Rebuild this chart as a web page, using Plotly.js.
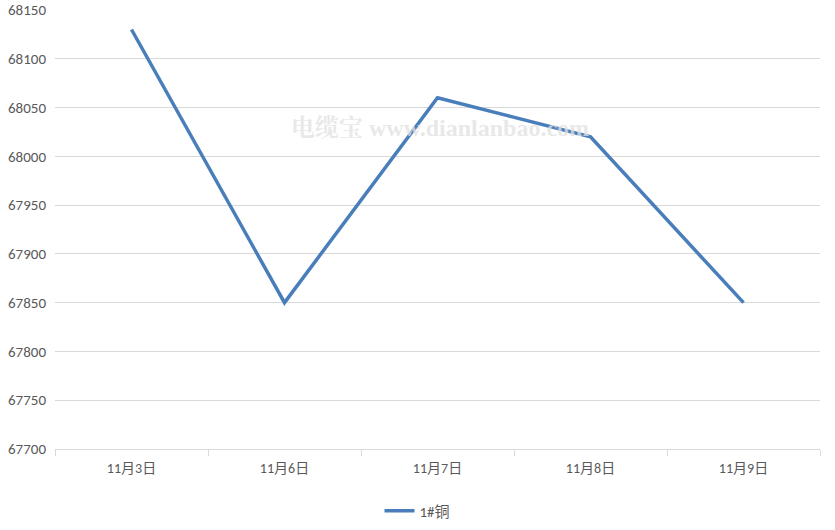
<!DOCTYPE html>
<html>
<head>
<meta charset="utf-8">
<script src="https://cdn.plot.ly/plotly-3.0.1.min.js"></script>
<style>html,body{margin:0;padding:0;background:#fff;}#chart{width:835px;height:530px;}</style>
</head>
<body>
<div id="chart"></div>
<script>
const categories = ["11月3日", "11月6日", "11月7日", "11月8日", "11月9日"];
const seriesName = "1#铜";
const values = [68130, 67850, 68060, 68020, 67850];
const yTicks = [67700, 67750, 67800, 67850, 67900, 67950, 68000, 68050, 68100, 68150];
const watermark = "电缆宝 www.dianlanbao.com";

const fontFam = "Calibri, 'Liberation Sans', 'Noto Sans CJK SC', sans-serif";

Plotly.newPlot("chart", [{
  x: categories,
  y: values,
  type: "scatter",
  mode: "lines",
  name: seriesName,
  line: {color: "#4a7ebb", width: 3.5}
}], {
  width: 835, height: 530,
  margin: {l: 55, r: 15, t: 10, b: 81},
  paper_bgcolor: "#fff", plot_bgcolor: "#fff",
  font: {family: fontFam, size: 14, color: "#595959"},
  showlegend: true,
  legend: {orientation: "h", xref: "container", yref: "container", x: 0.5, xanchor: "center", y: 0.036, yanchor: "middle", font: {size: 15, color: "#595959"}},
  xaxis: {
    type: "category",
    range: [-0.5, categories.length - 0.5],
    tickson: "boundaries",
    ticks: "outside", ticklen: 6, tickcolor: "#d9d9d9",
    showline: true, linecolor: "#d9d9d9", linewidth: 1,
    showgrid: false,
    ticklabelstandoff: 6,
    tickfont: {size: 14, color: "#595959"},
    fixedrange: true
  },
  yaxis: {
    range: [67700, 68150],
    tickvals: yTicks,
    ticktext: yTicks.map(String),
    showgrid: true, gridcolor: "#d9d9d9", gridwidth: 1,
    zeroline: false, showline: false,
    ticks: "", ticklabelstandoff: 8,
    tickfont: {size: 15, color: "#595959"},
    fixedrange: true
  },
  annotations: [{
    text: "<b>" + watermark + "</b>",
    xref: "paper", yref: "paper", x: 0.503, y: 0.765,
    showarrow: false,
    font: {family: "'Liberation Serif', 'Noto Serif CJK SC', 'Noto Sans CJK SC', serif", size: 24, color: "rgba(225,225,225,0.75)"}
  }]
}, {displayModeBar: false, staticPlot: true});
</script>
</body>
</html>
